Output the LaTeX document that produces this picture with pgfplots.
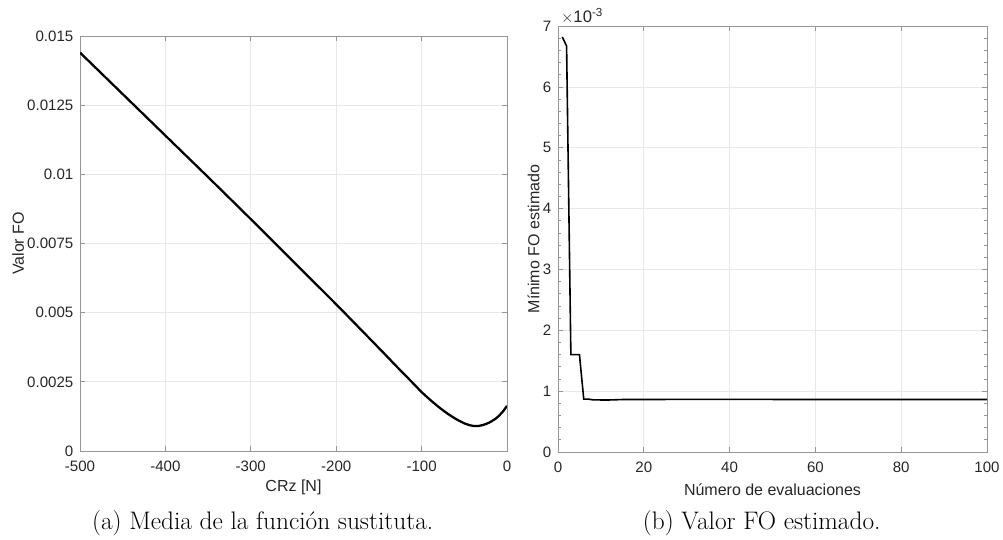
\documentclass[border=0pt]{standalone}
\usepackage{fontspec}
\usepackage{pgfplots}
\pgfplotsset{compat=1.18}
\newfontfamily\arial{Liberation Sans}
\definecolor{axgray}{RGB}{150,150,150}
\definecolor{txtgray}{RGB}{38,38,38}
\definecolor{gridgray}{RGB}{232,232,232}

\pgfplotstableread{
x y
-500 0.01440
-450 0.01290
-400 0.01140
-360 0.01020
-350 0.00990
-300 0.00838
-250 0.00684
-200 0.00530
-150 0.00372
-125 0.00292
-110 0.00245
-100 0.00213
-90 0.00185
-80 0.00159
-70 0.00136
-60 0.00116
-50 0.00100
-42 0.00092
-35 0.00090
-28 0.00094
-20 0.00104
-12 0.00120
-5 0.00142
0 0.00163
}\leftdata

\pgfplotstableread{
x y
1 0.00682
2 0.00667
3 0.00160
4 0.00160
5 0.00160
6 0.00087
7 0.00087
8 0.000858
10 0.000855
12 0.000855
15 0.000862
20 0.000862
30 0.000865
40 0.000865
60 0.000862
80 0.000862
100 0.000862
}\rightdata

\begin{document}
\begin{tikzpicture}
\path[use as bounding box] (0,0) rectangle (752.25pt,404.25pt);
\pgfplotsset{
  mystyle/.style={
    scale only axis,
    anchor=south west,
    axis line style={axgray, line width=0.5pt},
    tick style={axgray, line width=0.5pt},
    tick align=inside,
    major tick length=3.5pt,
    minor tick length=2pt,
    grid=major,
    major grid style={gridgray, line width=0.5pt},
    ticklabel style={font=\arial\fontsize{11.3}{13}\selectfont, text=txtgray},
    xticklabel style={yshift=-4pt},
    yticklabel style={xshift=-1.5pt},
    label style={font=\arial\fontsize{12}{14}\selectfont, text=txtgray},
    /pgf/number format/assume math mode=true,
  }
}
\begin{axis}[mystyle,
  at={(60pt,66pt)}, width=320.25pt, height=311.25pt,
  xmin=-500, xmax=0, ymin=0, ymax=0.015,
  xtick={-500,-400,-300,-200,-100,0},
  xticklabels={-500,-400,-300,-200,-100,0},
  ytick={0,0.0025,0.005,0.0075,0.01,0.0125,0.015},
  yticklabels={0,0.0025,0.005,0.0075,0.01,0.0125,0.015},
  scaled ticks=false,
  xlabel={CRz [N]}, ylabel={Valor FO},
  xlabel style={at={(axis description cs:0.5,-0.088)}, anchor=center},
  ylabel style={at={(axis description cs:-0.145,0.5)}, anchor=center},
]
\addplot[black, line width=1.7pt, smooth, tension=0.4] table[x=x,y=y] {\leftdata};
\end{axis}

\begin{axis}[mystyle, name=rax,
  at={(418.5pt,65.25pt)}, width=321.75pt, height=319.5pt,
  xmin=0, xmax=100, ymin=0, ymax=0.007,
  xtick={0,20,...,100},
  xticklabels={0,20,40,60,80,100},
  ytick={0,0.001,0.002,0.003,0.004,0.005,0.006,0.007},
  yticklabels={0,1,2,3,4,5,6,7},
  minor y tick num=4,
  scaled ticks=false,
  xlabel={Número de evaluaciones}, ylabel={Mínimo FO estimado},
  xlabel style={at={(axis description cs:0.5,-0.088)}, anchor=center},
  ylabel style={at={(axis description cs:-0.057,0.5)}, anchor=center},
]
\addplot[black, line width=1.2pt] table[x=x,y=y] {\rightdata};
\end{axis}
\node[anchor=south west, inner sep=0pt, font=\arial\fontsize{12.5}{14}\selectfont, text=txtgray] at ([yshift=1.5pt]rax.north west) {\,$\times$10\textsuperscript{-3}};

\node[anchor=base, font=\fontsize{19}{22}\selectfont] at (197pt,6.75pt) {(a) Media de la función sustituta.};
\node[anchor=base, font=\fontsize{19}{22}\selectfont] at (571.3pt,6.75pt) {(b) Valor FO estimado.};
\end{tikzpicture}
\end{document}
